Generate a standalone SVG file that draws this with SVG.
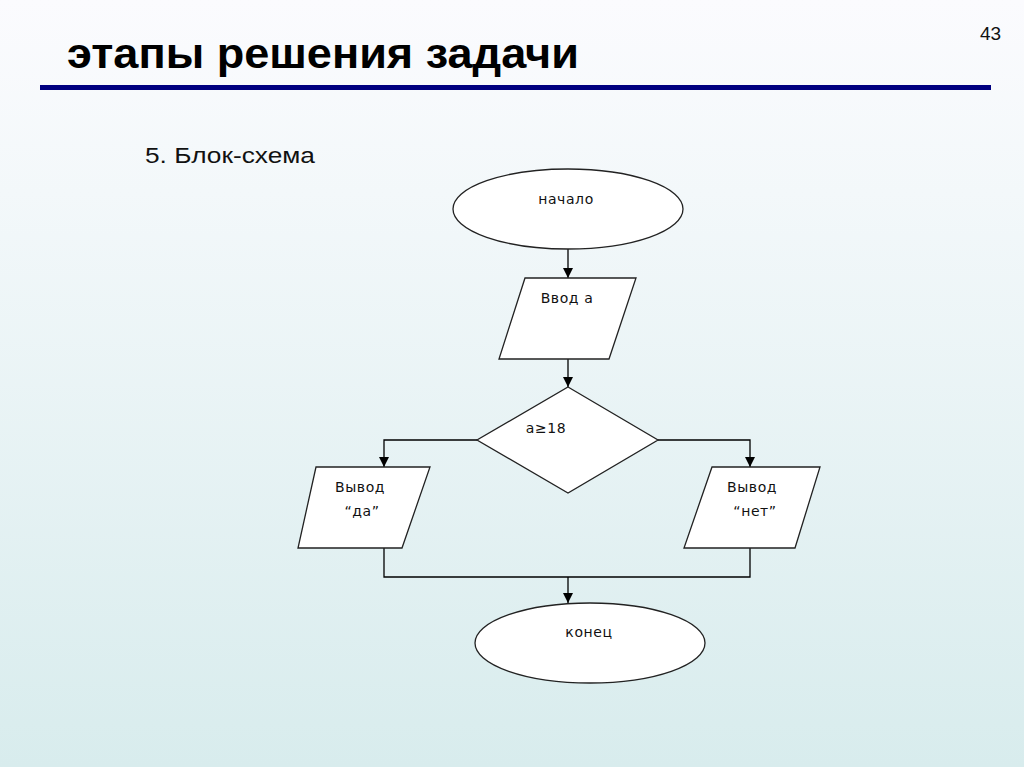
<svg xmlns="http://www.w3.org/2000/svg" width="1024" height="767" viewBox="0 0 1024 767">
<defs>
<linearGradient id="bg" x1="0" y1="0" x2="0" y2="1">
<stop offset="0" stop-color="#fbfbfe"/>
<stop offset="0.25" stop-color="#f3f8fa"/>
<stop offset="1" stop-color="#d8eced"/>
</linearGradient>
<marker id="arr" viewBox="0 0 10 10" refX="10" refY="5" markerWidth="10" markerHeight="10" markerUnits="userSpaceOnUse" orient="auto">
<path d="M0,0 L10,5 L0,10 z" fill="#000"/>
</marker>
<style>
.shape{fill:#fff;stroke:#222;stroke-width:1.3}
.lbl{font-family:"DejaVu Sans",sans-serif;font-size:14px;fill:#111;letter-spacing:0.6px}
.conn{fill:none;stroke:#000;stroke-width:1.3}
</style>
</defs>
<rect x="0" y="0" width="1024" height="767" fill="url(#bg)"/>
<text x="980" y="40" font-family="Liberation Sans Narrow, Liberation Sans, sans-serif" font-size="19" fill="#111">43</text>
<text x="67" y="68" font-family="Liberation Sans, sans-serif" font-size="42" font-weight="bold" fill="#000" textLength="512" lengthAdjust="spacingAndGlyphs">этапы решения задачи</text>
<rect x="40" y="85" width="951" height="5" fill="#000080"/>
<text x="145" y="163" font-family="Liberation Sans, sans-serif" font-size="22" fill="#111" textLength="170" lengthAdjust="spacingAndGlyphs">5. Блок-схема</text>

<g id="connectors">
<line class="conn" x1="568" y1="249" x2="568" y2="278" marker-end="url(#arr)"/>
<line class="conn" x1="568" y1="359" x2="568" y2="387" marker-end="url(#arr)"/>
<polyline class="conn" points="477,440 384,440 384,467" marker-end="url(#arr)"/>
<polyline class="conn" points="658,440 750,440 750,467" marker-end="url(#arr)"/>
<polyline class="conn" points="384,548 384,577 750,577 750,548"/>
<line class="conn" x1="568" y1="577" x2="568" y2="603" marker-end="url(#arr)"/>
</g>

<g id="start">
<ellipse class="shape" cx="568" cy="209" rx="115" ry="40"/>
<text class="lbl" x="566" y="204" text-anchor="middle">начало</text>
</g>
<g id="input">
<polygon class="shape" points="525,278 636,278 609,359 499,359"/>
<text class="lbl" x="567" y="303" text-anchor="middle">Ввод а</text>
</g>
<g id="decision">
<polygon class="shape" points="568,387 658,440 568,493 477,440"/>
<text class="lbl" x="546" y="433" text-anchor="middle">a≥18</text>
</g>
<g id="out-yes">
<polygon class="shape" points="316,467 430,467 402,548 298,548"/>
<text class="lbl" x="360" y="492" text-anchor="middle">Вывод</text>
<text class="lbl" x="362" y="516" text-anchor="middle">“да”</text>
</g>
<g id="out-no">
<polygon class="shape" points="712,467 820,467 795,548 684,548"/>
<text class="lbl" x="752" y="492" text-anchor="middle">Вывод</text>
<text class="lbl" x="755" y="516" text-anchor="middle">“нет”</text>
</g>
<g id="end">
<ellipse class="shape" cx="590" cy="643" rx="115" ry="40"/>
<text class="lbl" x="589" y="637" text-anchor="middle">конец</text>
</g>
</svg>
